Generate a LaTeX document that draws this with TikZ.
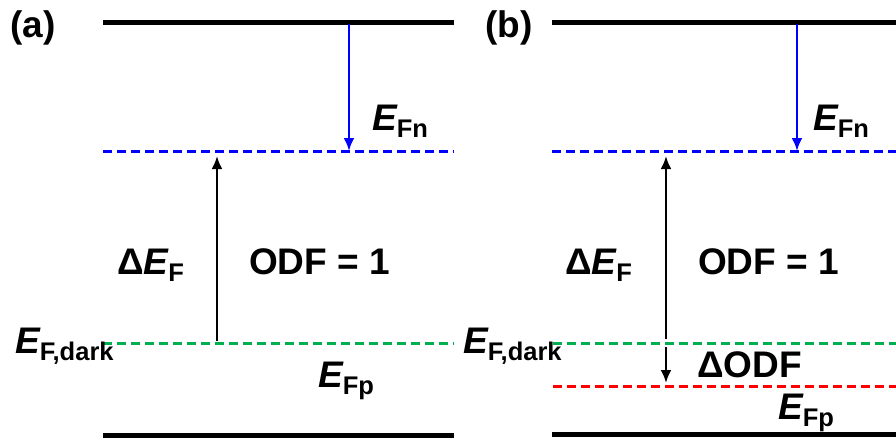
\documentclass[tikz,border=0pt]{standalone}
\usepackage{fontspec}
\setmainfont{Liberation Sans}
\usetikzlibrary{arrows.meta}
\definecolor{lvgreen}{RGB}{0,176,80}
\definecolor{lvblue}{RGB}{0,0,255}
\definecolor{lvred}{RGB}{255,0,0}
\newcommand{\Elab}[1]{{\itshape E}\raisebox{-7pt}{\fontsize{25.5}{26}\selectfont #1}}
\tikzset{
  band/.style={line width=5pt},
  qlevel/.style={line width=3pt, dash pattern=on 9pt off 5pt},
  arr/.style={line width=2.5pt, -{Latex[length=13pt,width=11pt]}},
  lbl/.style={font=\bfseries\fontsize{37}{40}\selectfont, inner sep=0pt, anchor=base west},
}
\begin{document}
\begin{tikzpicture}[x=1pt,y=-1pt]
\useasboundingbox (0,0) rectangle (896,439);
% ---------- panel (a)
\coordinate (aTL) at (103,22);  \coordinate (aTR) at (454,22);
\coordinate (aNL) at (103,151); \coordinate (aNR) at (454,151);
\coordinate (aDL) at (103,343); \coordinate (aDR) at (454,343);
\coordinate (aBL) at (103,435); \coordinate (aBR) at (454,435);
\draw[band] (aTL) -- (aTR);
\draw[band] (aBL) -- (aBR);
\draw[qlevel, lvblue] (aNL) -- (aNR);
\draw[qlevel, lvgreen] (aDL) -- (aDR);
\coordinate (aB1) at (349,24); \coordinate (aB2) at (349,151);
\draw[arr, lvblue] (aB1) -- (aB2);
\coordinate (aK1) at (217,341); \coordinate (aK2) at (217,151);
\draw[arr, black, shorten >=5pt] (aK1) -- (aK2);
\node[lbl] (alab) at (10,37) {(a)};
\node[lbl] (aEFn) at (372,130) {\Elab{Fn}};
\node[lbl] (adEF) at (117,274) {Δ\Elab{F}};
\node[lbl] (aODF) at (249,274) {ODF = 1};
\node[lbl] (aEFd) at (15,353) {\Elab{F,dark}};
\node[lbl] (aEFp) at (318,387) {\Elab{Fp}};
% ---------- panel (b)
\coordinate (bTL) at (552,22);  \coordinate (bTR) at (896,22);
\coordinate (bNL) at (552,151); \coordinate (bNR) at (896,151);
\coordinate (bDL) at (553,343); \coordinate (bDR) at (896,343);
\coordinate (bRL) at (553,386); \coordinate (bRR) at (896,386);
\coordinate (bBL) at (552,434); \coordinate (bBR) at (896,434);
\draw[band] (bTL) -- (bTR);
\draw[band] (bBL) -- (bBR);
\draw[qlevel, lvblue] (bNL) -- (bNR);
\draw[qlevel, lvgreen] (bDL) -- (bDR);
\draw[qlevel, lvred] (bRL) -- (bRR);
\coordinate (bB1) at (797,24); \coordinate (bB2) at (797,151);
\draw[arr, lvblue] (bB1) -- (bB2);
\coordinate (bK1) at (666,343); \coordinate (bK2) at (666,151); \coordinate (bK3) at (666,386);
\draw[arr, black, shorten <=4pt, shorten >=5pt] (bK1) -- (bK2);
\draw[arr, black, shorten <=4pt, shorten >=3pt] (bK1) -- (bK3);
\node[lbl] (blab) at (485,37) {(b)};
\node[lbl] (bEFn) at (813,130) {\Elab{Fn}};
\node[lbl] (bdEF) at (565,274) {Δ\Elab{F}};
\node[lbl] (bODF) at (698,274) {ODF = 1};
\node[lbl] (bEFd) at (463,353) {\Elab{F,dark}};
\node[lbl] (bdODF) at (697,377) {ΔODF};
\node[lbl] (bEFp) at (778,419) {\Elab{Fp}};
\end{tikzpicture}
\end{document}
